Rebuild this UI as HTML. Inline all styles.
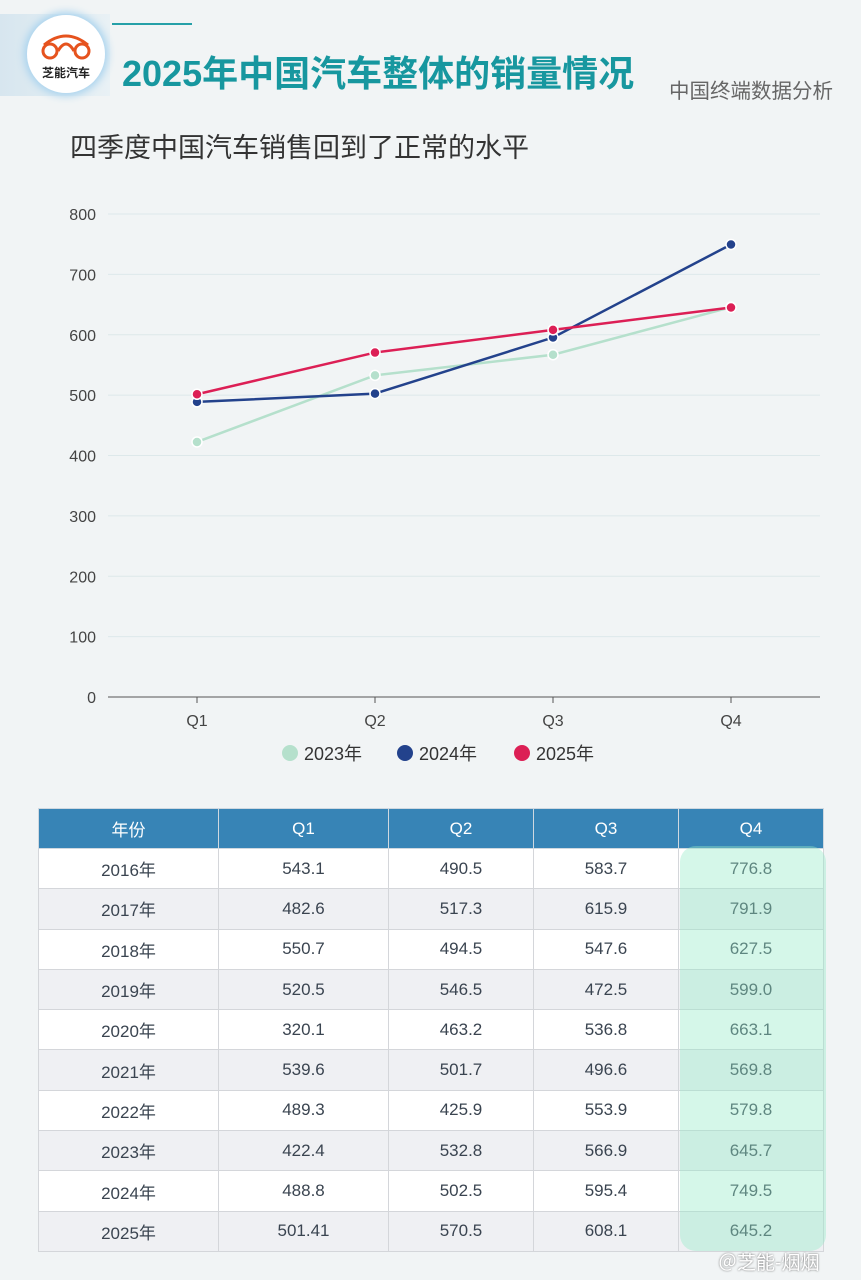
<!DOCTYPE html>
<html><head><meta charset="utf-8"><style>
body{margin:0;width:861px;height:1280px;background:#f1f4f5;font-family:"Liberation Sans","Noto Sans CJK SC",sans-serif;position:relative;overflow:hidden}
.abs{position:absolute}
table{border-collapse:collapse;position:absolute;left:38px;top:808px;width:786px;font-size:17px;color:#3a4450}
td,th{border:1px solid #d4d6da;text-align:center;height:39.3px;padding:0}
th{background:#3784b6;color:#fff;font-weight:normal;height:39px;border-color:#cfd8e0}
tr:nth-child(even) td{background:#fff}
tr:nth-child(odd) td{background:#eff0f3}
</style></head><body>
<div class="abs" style="left:0;top:14px;width:110px;height:82px;background:linear-gradient(90deg,#d7e6ef,#e9f1f5)"></div>
<div class="abs" style="left:27px;top:15px;width:78px;height:78px;border-radius:50%;background:#fff;box-shadow:0 0 8px 3px #a9d3ee;text-align:center">
<svg width="56" height="30" style="margin-top:16px"><g fill="none" stroke="#e6531e" stroke-width="3"><circle cx="12" cy="20" r="7"/><circle cx="44" cy="20" r="7"/><path d="M6 14 Q28 -4 50 14"/><path d="M20 20 Q28 6 36 20"/></g></svg>
<div style="font-size:12px;font-weight:bold;color:#222;margin-top:-2px">芝能汽车</div></div>
<div class="abs" style="left:112px;top:23px;width:80px;height:2px;background:#26a0a8"></div>
<div class="abs" style="left:122px;top:45px;font-size:36px;font-weight:bold;color:#17979f">2025年中国汽车整体的销量情况</div>
<div class="abs" style="left:669px;top:74px;font-size:20.5px;color:#666">中国终端数据分析</div>
<div class="abs" style="left:70px;top:126px;font-size:27px;color:#333">四季度中国汽车销售回到了正常的水平</div>
<svg class="abs" style="left:0;top:0" width="861" height="780" id="chart"></svg>
<table>
<tr><th style="width:179px">年份</th><th style="width:169px">Q1</th><th style="width:144px">Q2</th><th style="width:144px">Q3</th><th>Q4</th></tr>
<tr><td>2016年</td><td>543.1</td><td>490.5</td><td>583.7</td><td>776.8</td></tr>
<tr><td>2017年</td><td>482.6</td><td>517.3</td><td>615.9</td><td>791.9</td></tr>
<tr><td>2018年</td><td>550.7</td><td>494.5</td><td>547.6</td><td>627.5</td></tr>
<tr><td>2019年</td><td>520.5</td><td>546.5</td><td>472.5</td><td>599.0</td></tr>
<tr><td>2020年</td><td>320.1</td><td>463.2</td><td>536.8</td><td>663.1</td></tr>
<tr><td>2021年</td><td>539.6</td><td>501.7</td><td>496.6</td><td>569.8</td></tr>
<tr><td>2022年</td><td>489.3</td><td>425.9</td><td>553.9</td><td>579.8</td></tr>
<tr><td>2023年</td><td>422.4</td><td>532.8</td><td>566.9</td><td>645.7</td></tr>
<tr><td>2024年</td><td>488.8</td><td>502.5</td><td>595.4</td><td>749.5</td></tr>
<tr><td>2025年</td><td>501.41</td><td>570.5</td><td>608.1</td><td>645.2</td></tr>
</table>
<div class="abs" style="left:680px;top:846px;width:146px;height:405px;border-radius:16px;background:rgba(150,235,200,0.4)"></div>
<div class="abs" style="left:718px;top:1248px;font-size:19px;color:#fff;text-shadow:0 0 2px #666">＠芝能-烟烟</div>
<script>
const categories=["Q1","Q2","Q3","Q4"];
const s2023=[422.4,532.8,566.9,645.7];
const s2024=[488.8,502.5,595.4,749.5];
const s2025=[501.41,570.5,608.1,645.2];
const yTicks=[0,100,200,300,400,500,600,700,800];
const seriesNames=["2023年","2024年","2025年"];
const colors=["#b5e0cc","#23428c","#dc1f55"];
const NS="http://www.w3.org/2000/svg",svg=document.getElementById('chart');
const x0=108,x1=820,y0=697,y1=214,ymax=800;
const band=(x1-x0)/categories.length;
const X=i=>x0+band*(i+0.5), Y=v=>y0-(v/ymax)*(y0-y1);
function mk(t,a){const e=document.createElementNS(NS,t);for(const k in a)e.setAttribute(k,a[k]);svg.appendChild(e);return e;}
yTicks.forEach(t=>{
 const l=mk('line',{x1:x0,x2:x1,y1:Y(t),y2:Y(t),stroke:t?'#dde8ea':'#555','stroke-width':1});
 
 
 const tx=mk('text',{x:96,y:Y(t)+6,'text-anchor':'end','font-size':16,fill:'#444'});tx.textContent=t;
 
 
});
categories.forEach((c,i)=>{
 const tk=mk('line',{x1:X(i),x2:X(i),y1:y0,y2:y0+6,stroke:'#555'});
 
 
 const t=mk('text',{x:X(i),y:726,'text-anchor':'middle','font-size':16,fill:'#444'});t.textContent=c;
 
 
});
[s2023,s2024,s2025].forEach((s,k)=>{
 const p=mk('polyline',{points:s.map((v,i)=>X(i)+','+Y(v)).join(' '),fill:'none',stroke:colors[k],'stroke-width':2.5});
 
 
 s.forEach((v,i)=>{const c=mk('circle',{cx:X(i),cy:Y(v),r:5,fill:colors[k],stroke:'#fff','stroke-width':1.5});
  
  });
 const lx=[290,405,522][k];
 const lc=mk('circle',{cx:lx,cy:753,r:8,fill:colors[k]});
 
 
 const lt=mk('text',{x:lx+14,y:760,'font-size':18,fill:'#333'});lt.textContent=seriesNames[k];
 
 
});
</script>
</body></html>
